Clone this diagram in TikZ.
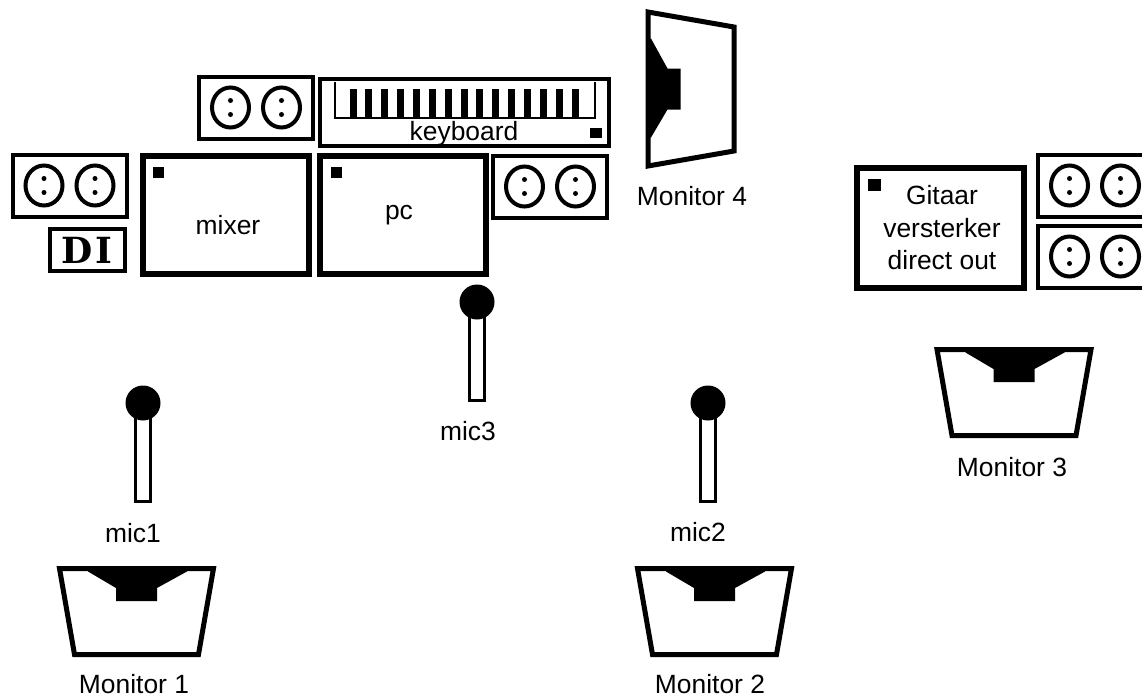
\documentclass[tikz,border=0pt]{standalone}
\usepackage{fontspec}
\setmainfont{Liberation Sans}
\newfontfamily\diefont{DejaVu Serif}
\usetikzlibrary{positioning}

\tikzset{
  txt/.style={inner sep=0pt, outer sep=0pt, font=\fontsize{26.4}{32.5}\selectfont, align=center},
  gearbox/.style={draw, line width=6pt, fill=white, inner sep=0pt, outer sep=0pt},
  ledmark/.style={fill=black, inner sep=0pt, outer sep=0pt},
  keybar/.style={fill=black, inner sep=0pt, outer sep=0pt, minimum width=7pt, minimum height=28pt},
  outlet/.pic={
    \draw[line width=4pt] (-57,-31) rectangle (57,31);
    \foreach \sx in {-25.5,25.5} {
      \draw[line width=4pt] (\sx,0) ellipse [x radius=18.5, y radius=20];
      \fill (\sx,-7) circle [radius=2.5];
      \fill (\sx,7) circle [radius=2.5];
    }
  },
  monitor/.pic={
    \draw[line width=5pt, line join=miter] (-77,-43) -- (77,-43) -- (62,43) -- (-62,43) -- cycle;
    \fill (-48.5,-43) -- (-48.5,-40) -- (-20.5,-23.5) -- (-20.5,-10.5) -- (20.5,-10.5) -- (20.5,-23.5) -- (50.5,-40) -- (50.5,-43) -- cycle;
  },
  mic/.pic={
    \draw[line width=3pt] (-7.5,10) rectangle (7.5,98.5);
    \fill (0,0) circle [radius=17.5];
  }
}

\begin{document}
\begin{tikzpicture}[x=1pt, y=-1pt]
\path[use as bounding box, clip] (0,0) rectangle (1142,696);

% Keyboard on top of the pc
\node[gearbox, line width=4pt, minimum width=289pt, minimum height=67pt] (keyboard) at (464.5,112.5) {};
\draw[line width=2pt] (335,82) -- (335,118) -- (595,118) -- (595,82);
\foreach \kx [count=\ki] in {353,368.9,384.7,400.6,416.4,432.3,448.1,464,479.9,495.7,511.6,527.4,543.3,559.1,575} {
  \node[keybar] (key\ki) at (\kx,103) {};
}
\node[txt] (keyboardlabel) at (464,134) {keyboard};
\node[ledmark, minimum width=12pt, minimum height=10pt] (keyboardled) at (596,133) {};

% Mixer and pc
\node[gearbox, minimum width=166pt, minimum height=118pt] (mixer) at (226,215) {};
\node[ledmark, minimum width=11pt, minimum height=11pt] (mixerled) at (158.5,172.5) {};
\node[txt] (mixerlabel) at (228,225) {mixer};

\node[gearbox, minimum width=166pt, minimum height=118pt] (pc) at (403,215) {};
\node[ledmark, minimum width=11pt, minimum height=11pt] (pcled) at (336.5,172.5) {};
\node[txt] (pclabel) at (399,215) {pc};

% Guitar amp
\node[gearbox, minimum width=167pt, minimum height=120pt] (amp) at (940.5,228) {};
\node[ledmark, minimum width=13pt, minimum height=12pt] (ampled) at (874.5,185) {};
\node[txt] (amplabel) at (942,228) {Gitaar\\versterker\\direct out};

% DI box
\node[gearbox, line width=4pt, minimum width=75pt, minimum height=42pt] (di) at (87.5,250) {};
\node[inner sep=0pt, font=\diefont\fontsize{36}{36}\selectfont\bfseries] (dilabel) at (87,250) {D\kern3pt I};

% Power outlets
\pic (outleta) at (256,107.5) {outlet};
\pic (outletb) at (69.5,185.5) {outlet};
\pic (outletc) at (550,186.5) {outlet};
\pic (outletd) at (1095,185.5) {outlet};
\pic (outlete) at (1095,256.5) {outlet};

% Monitors
\pic (monitorone) at (136.5,611.5) {monitor};
\node[txt] (monitoronelabel) at (134,684) {Monitor 1};

\pic (monitortwo) at (714.5,611.5) {monitor};
\node[txt] (monitortwolabel) at (710,684) {Monitor 2};

\pic (monitorthree) at (1014,392.5) {monitor};
\node[txt] (monitorthreelabel) at (1012,467) {Monitor 3};

\pic[rotate=90] (monitorfour) at (691,89) {monitor};
\node[txt] (monitorfourlabel) at (692,196) {Monitor 4};

% Microphones
\pic (micone) at (143,403) {mic};
\node[txt] (miconelabel) at (133,533) {mic1};

\pic (mictwo) at (708,403) {mic};
\node[txt] (mictwolabel) at (698,532) {mic2};

\pic (micthree) at (477,302) {mic};
\node[txt] (micthreelabel) at (468,431) {mic3};
\end{tikzpicture}
\end{document}
